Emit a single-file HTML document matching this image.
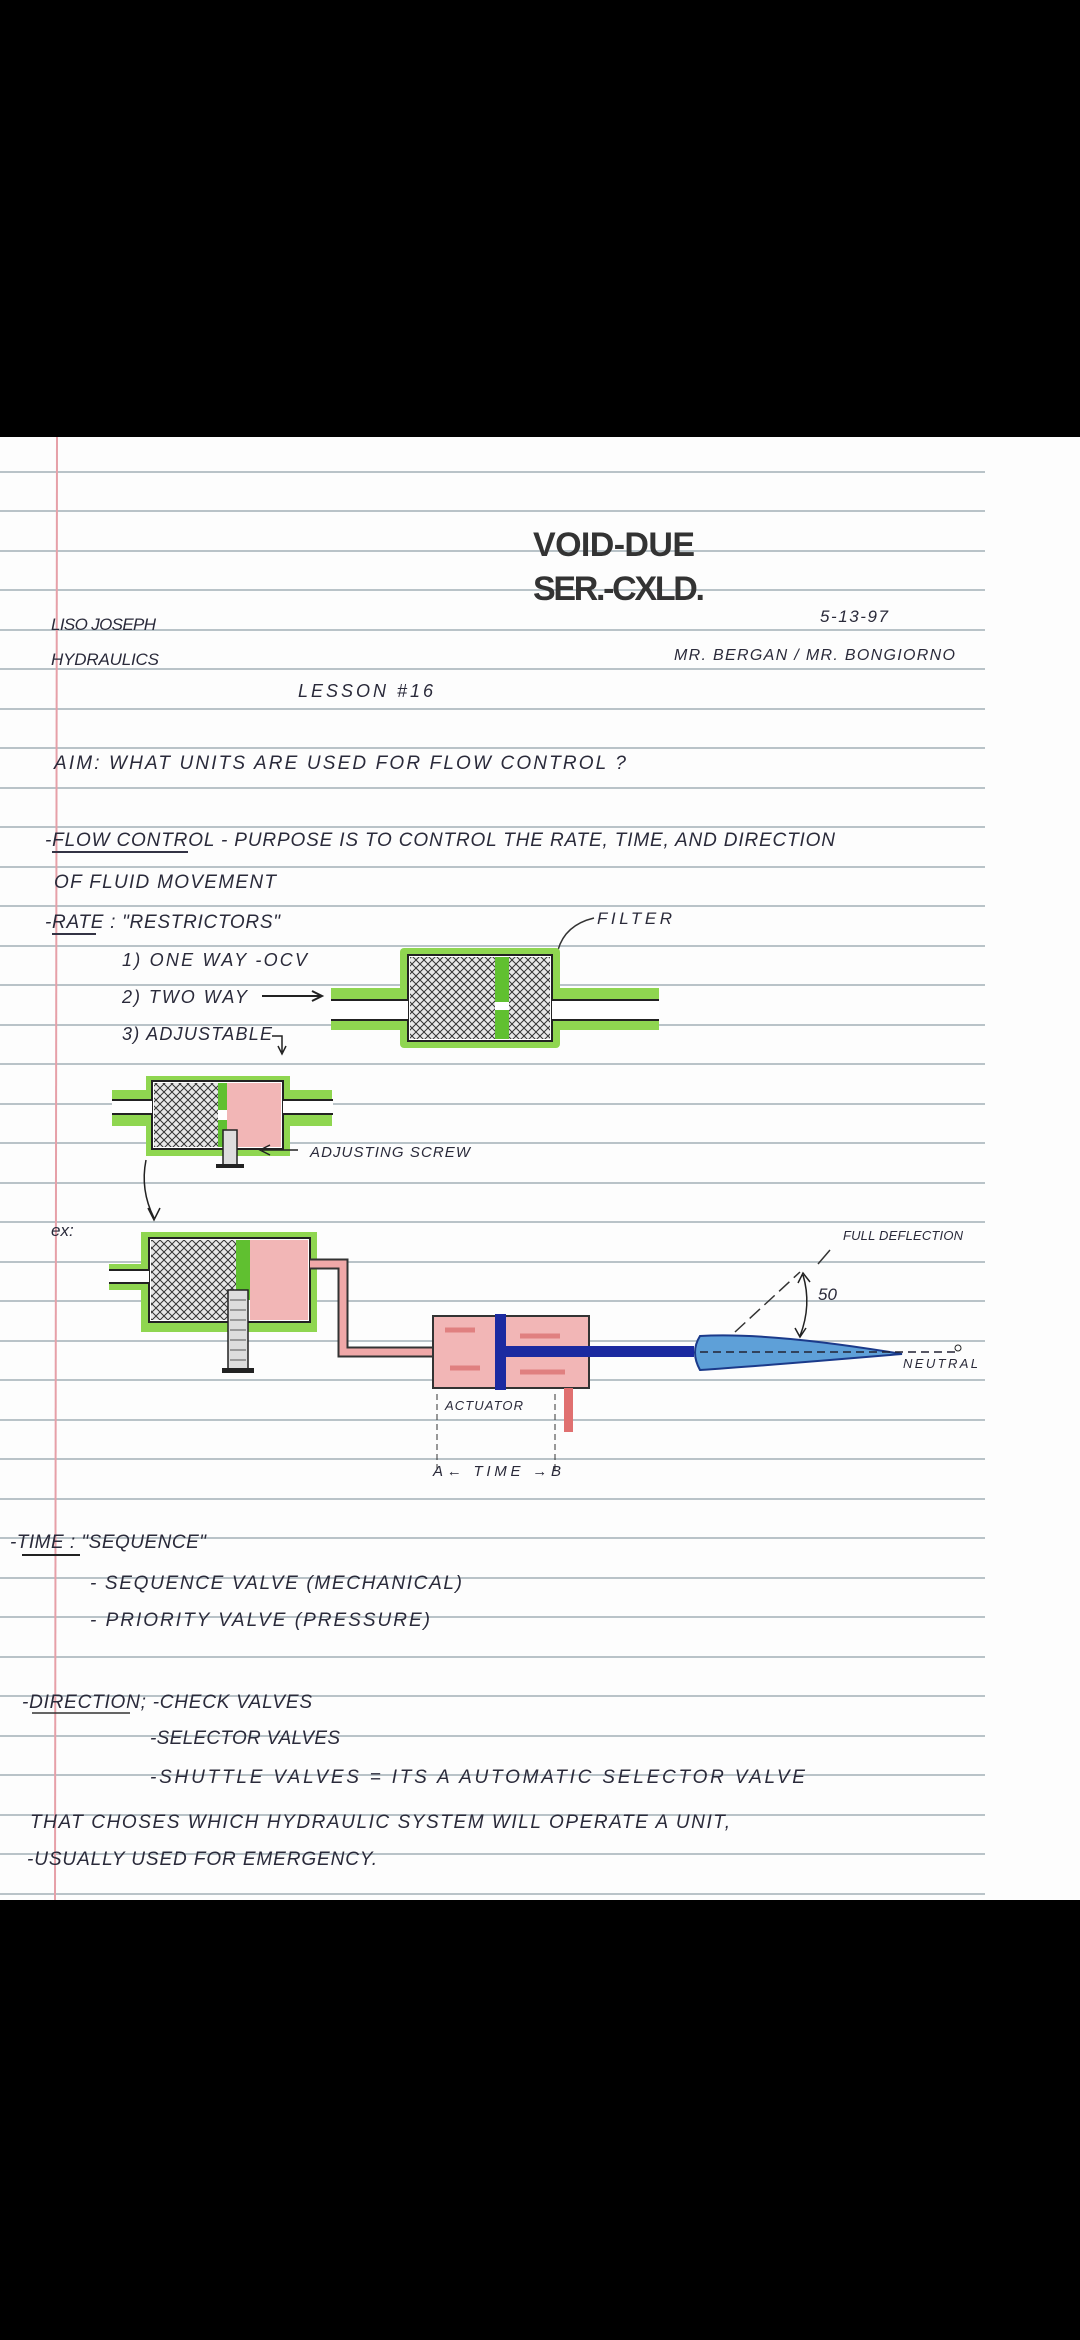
<!DOCTYPE html>
<html><head><meta charset="utf-8"><style>
html,body{margin:0;padding:0;background:#000;}
svg{display:block}
text{font-family:"Liberation Sans",sans-serif;fill:#2a2a3a;font-style:italic;}
</style></head><body>
<svg width="1080" height="2340" viewBox="0 0 1080 2340" xmlns="http://www.w3.org/2000/svg">
<defs>
<pattern id="hx" width="8" height="8" patternUnits="userSpaceOnUse">
<rect width="8" height="8" fill="#e8e8e8"/>
<path d="M0 8L8 0M0 0L8 8" stroke="#333" stroke-width="1"/>
</pattern>
</defs>
<rect x="0" y="0" width="1080" height="437" fill="#000"/>
<rect x="0" y="437" width="1080" height="1463" fill="#fdfdfd"/>
<rect x="0" y="1900" width="1080" height="440" fill="#000"/>
<g stroke="#b9c3c8" stroke-width="2">
<line x1="0" y1="472" x2="985" y2="472"/><line x1="0" y1="511" x2="985" y2="511"/><line x1="0" y1="551" x2="985" y2="551"/><line x1="0" y1="590" x2="985" y2="590"/>
<line x1="0" y1="630" x2="985" y2="630"/><line x1="0" y1="669" x2="985" y2="669"/><line x1="0" y1="709" x2="985" y2="709"/><line x1="0" y1="748" x2="985" y2="748"/>
<line x1="0" y1="788" x2="985" y2="788"/><line x1="0" y1="827" x2="985" y2="827"/><line x1="0" y1="867" x2="985" y2="867"/><line x1="0" y1="906" x2="985" y2="906"/>
<line x1="0" y1="946" x2="985" y2="946"/><line x1="0" y1="985" x2="985" y2="985"/><line x1="0" y1="1025" x2="985" y2="1025"/><line x1="0" y1="1064" x2="985" y2="1064"/>
<line x1="0" y1="1104" x2="985" y2="1104"/><line x1="0" y1="1143" x2="985" y2="1143"/><line x1="0" y1="1183" x2="985" y2="1183"/><line x1="0" y1="1222" x2="985" y2="1222"/>
<line x1="0" y1="1262" x2="985" y2="1262"/><line x1="0" y1="1301" x2="985" y2="1301"/><line x1="0" y1="1341" x2="985" y2="1341"/><line x1="0" y1="1380" x2="985" y2="1380"/>
<line x1="0" y1="1420" x2="985" y2="1420"/><line x1="0" y1="1459" x2="985" y2="1459"/><line x1="0" y1="1499" x2="985" y2="1499"/><line x1="0" y1="1538" x2="985" y2="1538"/>
<line x1="0" y1="1578" x2="985" y2="1578"/><line x1="0" y1="1617" x2="985" y2="1617"/><line x1="0" y1="1657" x2="985" y2="1657"/><line x1="0" y1="1696" x2="985" y2="1696"/>
<line x1="0" y1="1736" x2="985" y2="1736"/><line x1="0" y1="1775" x2="985" y2="1775"/><line x1="0" y1="1815" x2="985" y2="1815"/><line x1="0" y1="1854" x2="985" y2="1854"/>
<line x1="0" y1="1894" x2="985" y2="1894"/>
</g>
<line x1="57" y1="437" x2="55" y2="1900" stroke="#e6a0a8" stroke-width="2"/>

<text x="533" y="556" font-size="34" font-weight="bold" textLength="162" style="font-style:normal;fill:#333">VOID-DUE</text>
<text x="533" y="600" font-size="34" font-weight="bold" textLength="172" style="font-style:normal;fill:#333">SER.-CXLD.</text>

<text x="51" y="630" font-size="17" textLength="105">LISO JOSEPH</text>
<text x="820" y="622" font-size="17" textLength="68">5-13-97</text>
<text x="51" y="665" font-size="17" textLength="108">HYDRAULICS</text>
<text x="674" y="660" font-size="16" textLength="281">MR. BERGAN / MR. BONGIORNO</text>
<text x="298" y="697" font-size="18" textLength="135">LESSON #16</text>
<text x="54" y="769" font-size="19" textLength="572">AIM:  WHAT UNITS ARE USED FOR  FLOW CONTROL ?</text>
<text x="45" y="846" font-size="19" textLength="790">-FLOW CONTROL - PURPOSE IS TO CONTROL THE RATE, TIME, AND DIRECTION</text>
<line x1="52" y1="852" x2="188" y2="852" stroke="#334" stroke-width="2"/>
<text x="54" y="888" font-size="19" textLength="222">OF FLUID MOVEMENT</text>
<text x="45" y="928" font-size="19" textLength="235">-RATE : "RESTRICTORS"</text>
<line x1="52" y1="934" x2="96" y2="934" stroke="#334" stroke-width="2"/>
<text x="597" y="924" font-size="17" textLength="75">FILTER</text>
<path d="M594 918 Q565 925 558 950" fill="none" stroke="#333" stroke-width="1.5"/>
<text x="122" y="966" font-size="18" textLength="185">1) ONE WAY   -OCV</text>
<text x="122" y="1003" font-size="18" textLength="125">2) TWO  WAY</text>
<path d="M262 996 H320 M312 991 L322 996 L312 1001" fill="none" stroke="#222" stroke-width="2"/>
<text x="122" y="1040" font-size="18" textLength="150">3) ADJUSTABLE</text>
<path d="M272 1036 H282 V1052 M278 1046 L282 1054 L286 1046" fill="none" stroke="#222" stroke-width="1.5"/>

<!-- filter -->
<rect x="331" y="988" width="328" height="42" fill="#8fd650"/>
<rect x="400" y="948" width="160" height="100" fill="#8fd650" rx="4"/>
<rect x="408" y="955" width="144" height="86" fill="#fff" stroke="#222" stroke-width="2"/>
<rect x="331" y="1000" width="77" height="20" fill="#fff"/><rect x="552" y="1000" width="107" height="20" fill="#fff"/>
<path d="M331 1000H408M331 1020H408M552 1000H659M552 1020H659" stroke="#222" stroke-width="2"/>
<rect x="410" y="957" width="85" height="82" fill="url(#hx)"/>
<rect x="495" y="957" width="14" height="82" fill="#60c030"/>
<rect x="509" y="957" width="41" height="82" fill="url(#hx)"/>
<rect x="495" y="1002" width="14" height="8" fill="#fff"/>

<!-- adjustable -->
<rect x="112" y="1090" width="220" height="36" fill="#8fd650"/>
<rect x="146" y="1076" width="144" height="80" fill="#8fd650"/>
<rect x="152" y="1081" width="131" height="68" fill="#fff" stroke="#222" stroke-width="2"/>
<rect x="112" y="1100" width="40" height="14" fill="#fff"/><rect x="283" y="1100" width="50" height="14" fill="#fff"/>
<path d="M112 1100H152M112 1114H152M283 1100H333M283 1114H333" stroke="#222" stroke-width="2"/>
<rect x="154" y="1083" width="64" height="64" fill="url(#hx)"/>
<rect x="225" y="1083" width="56" height="64" fill="#f2b6b6"/>
<rect x="218" y="1083" width="9" height="64" fill="#60c030"/>
<rect x="218" y="1110" width="9" height="10" fill="#fff"/>
<rect x="223" y="1130" width="14" height="36" fill="#ddd" stroke="#222" stroke-width="1.5"/>
<rect x="216" y="1164" width="28" height="4" fill="#222"/>
<path d="M298 1150 H262 M270 1145 L260 1150 L270 1155" fill="none" stroke="#222" stroke-width="1.5"/>
<text x="310" y="1157" font-size="15" textLength="160">ADJUSTING SCREW</text>
<path d="M146 1160 Q140 1190 154 1218 M148 1208 L154 1220 L160 1208" fill="none" stroke="#222" stroke-width="1.5"/>
<text x="51" y="1236" font-size="17">ex:</text>

<!-- bottom valve -->
<rect x="109" y="1264" width="70" height="26" fill="#8fd650"/>
<rect x="141" y="1232" width="176" height="100" fill="#8fd650"/>
<rect x="149" y="1238" width="161" height="84" fill="#fff" stroke="#222" stroke-width="2"/>
<rect x="109" y="1270" width="40" height="13" fill="#fff"/>
<path d="M109 1270H149M109 1283H149" stroke="#222" stroke-width="2"/>
<rect x="151" y="1240" width="85" height="80" fill="url(#hx)"/>
<rect x="236" y="1240" width="14" height="60" fill="#60c030"/>
<rect x="250" y="1240" width="58" height="80" fill="#f2b6b6"/>
<rect x="228" y="1290" width="20" height="80" fill="#ddd" stroke="#222" stroke-width="1.5"/>
<path d="M230 1300H246M230 1310H246M230 1320H246M230 1330H246M230 1340H246M230 1350H246M230 1360H246" stroke="#555"/>
<rect x="222" y="1368" width="32" height="5" fill="#222"/>
<!-- red pipe -->
<path d="M310 1264 H343 V1352 H433" fill="none" stroke="#333" stroke-width="11"/>
<path d="M310 1264 H343 V1352 H433" fill="none" stroke="#f0a8a8" stroke-width="7"/>
<!-- actuator -->
<rect x="433" y="1316" width="156" height="72" fill="#f2b6b6" stroke="#333" stroke-width="2"/>
<path d="M445 1330h30M520 1336h40M450 1368h30M520 1372h45" stroke="#e08080" stroke-width="5"/>
<rect x="495" y="1314" width="11" height="76" fill="#1b2aa0"/>
<rect x="506" y="1346" width="188" height="11" fill="#1b2aa0"/>
<rect x="564" y="1388" width="9" height="44" fill="#e07070"/>
<!-- teardrop -->
<path d="M700 1336 Q690 1352 700 1370 Q760 1366 902 1354 Q770 1332 700 1336Z" fill="#5ea0d8" stroke="#1b3a8a" stroke-width="2"/>
<path d="M700 1352 H955" stroke="#223" stroke-width="1.5" stroke-dasharray="8 5"/>
<circle cx="958" cy="1348" r="3" fill="none" stroke="#222"/>
<text x="903" y="1368" font-size="13" textLength="75">NEUTRAL</text>
<path d="M735 1332 L800 1272" stroke="#333" stroke-width="1.5" stroke-dasharray="14 6"/>
<path d="M818 1264 L830 1250" stroke="#333" stroke-width="1.5"/>
<text x="843" y="1240" font-size="13" textLength="120">FULL DEFLECTION</text>
<path d="M803 1275 Q812 1305 800 1336 M798 1283 L803 1273 L810 1282 M795 1328 L800 1337 L806 1328" fill="none" stroke="#222" stroke-width="1.5"/>
<text x="818" y="1300" font-size="17">50</text>
<text x="445" y="1410" font-size="13" textLength="78">ACTUATOR</text>
<path d="M437 1394V1470M555 1394V1470" stroke="#333" stroke-width="1" stroke-dasharray="6 4"/>
<text x="433" y="1476" font-size="15" textLength="128">A← TIME →B</text>

<text x="10" y="1548" font-size="19" textLength="196">-TIME : "SEQUENCE"</text>
<line x1="22" y1="1555" x2="80" y2="1555" stroke="#222" stroke-width="2"/>
<text x="90" y="1589" font-size="19" textLength="372">- SEQUENCE VALVE (MECHANICAL)</text>
<text x="90" y="1626" font-size="19" textLength="340">- PRIORITY VALVE (PRESSURE)</text>
<text x="22" y="1708" font-size="19" textLength="290">-DIRECTION;  -CHECK VALVES</text>
<line x1="32" y1="1713" x2="130" y2="1713" stroke="#333" stroke-width="1.5"/>
<text x="150" y="1744" font-size="19" textLength="190">-SELECTOR VALVES</text>
<text x="150" y="1783" font-size="19" textLength="655">-SHUTTLE VALVES  =  ITS  A  AUTOMATIC  SELECTOR  VALVE</text>
<text x="30" y="1828" font-size="19" textLength="700">THAT CHOSES WHICH HYDRAULIC  SYSTEM  WILL  OPERATE  A  UNIT,</text>
<text x="27" y="1865" font-size="19" textLength="350">-USUALLY  USED  FOR  EMERGENCY.</text>
</svg>
</body></html>
